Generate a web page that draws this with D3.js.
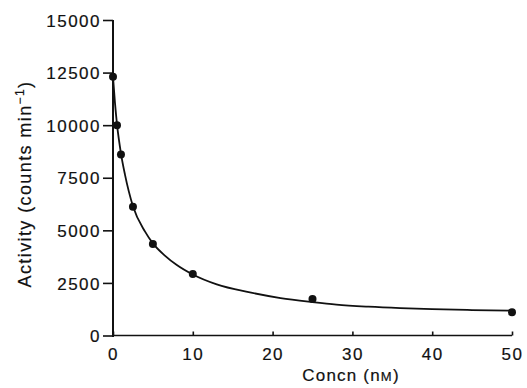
<!DOCTYPE html>
<html><head><meta charset="utf-8">
<script src="https://cdn.jsdelivr.net/npm/d3@7"></script>
<style>body{margin:0;background:#fff}svg{display:block}text{font-family:"Liberation Sans",Arial,sans-serif;fill:#111;stroke:#111;stroke-width:0.2px}</style>
</head><body><svg id="c" width="527" height="388"></svg>
<script>
const concn = [0, 0.5, 1, 2.5, 5, 10, 25, 50];
const activity = [12300, 10000, 8600, 6120, 4350, 2920, 1740, 1110];
const curveX = [0, 0.25, 0.5, 1, 1.5, 2.5, 4, 5, 6.5, 8, 10, 13, 17, 21, 25, 28, 32, 36, 40, 45, 50];
const curveY = [12300, 11050, 10050, 8650, 7650, 6150, 4950, 4380, 3800, 3350, 2900, 2430, 2060, 1780, 1590, 1470, 1370, 1300, 1250, 1210, 1180];
const xTicks = [0, 10, 20, 30, 40, 50];
const yTicks = [0, 2500, 5000, 7500, 10000, 12500, 15000];

const svg = d3.select("#c");
const x = d3.scaleLinear().domain([0, 50]).range([113, 512]);
const y = d3.scaleLinear().domain([0, 15000]).range([335.5, 20]);

// y axis
const ya = svg.append("g").attr("transform", "translate(113,0)")
  .call(d3.axisLeft(y).tickValues(yTicks).tickSize(10).tickPadding(3).tickFormat(d3.format("d")));
ya.select(".domain").attr("stroke", "#111").attr("stroke-width", 2).attr("d", "M0,20V337");
ya.selectAll(".tick line").attr("stroke", "#111").attr("stroke-width", 1.6);
ya.selectAll("text").style("font-size", "17px").style("letter-spacing", "1.5px").attr("dy", "0.36em").attr("x", -12);

// x axis
const xa = svg.append("g").attr("transform", "translate(0,335.5)")
  .call(d3.axisTop(x).tickValues(xTicks).tickSize(4).tickFormat(d3.format("d")));
xa.select(".domain").attr("stroke", "#111").attr("stroke-width", 1.6).attr("d", "M113,0H512");
xa.selectAll(".tick line").attr("stroke", "#111").attr("stroke-width", 1.6);
xa.selectAll("text").style("font-size", "17px").style("letter-spacing", "1.5px")
  .attr("y", 24).attr("dy", 0).attr("text-anchor", "middle");

// curve
const pts = curveX.map((d, i) => [d, curveY[i]]);
svg.append("path").datum(pts)
  .attr("d", d3.line().x(d => x(d[0])).y(d => y(d[1])).curve(d3.curveMonotoneX))
  .attr("fill", "none").attr("stroke", "#111").attr("stroke-width", 1.8);

// points
svg.append("g").selectAll("circle").data(concn).join("circle")
  .attr("cx", d => x(d)).attr("cy", (d, i) => y(activity[i])).attr("r", 4).attr("fill", "#111");

// axis titles
const xt = svg.append("text").attr("x", 351).attr("y", 381).attr("text-anchor", "middle")
  .style("font-size", "17px").style("letter-spacing", "1.2px");
xt.append("tspan").text("Concn (n");
xt.append("tspan").style("font-size", "13px").text("M");
xt.append("tspan").text(")");

const yt = svg.append("text").attr("transform", "translate(31,184) rotate(-90)").attr("text-anchor", "middle")
  .style("font-size", "18px").style("letter-spacing", "1.4px");
yt.append("tspan").text("Activity (counts min");
yt.append("tspan").attr("dy", -7).style("font-size", "12px").text("−1");
yt.append("tspan").attr("dy", 7).text(")");
</script></body></html>
